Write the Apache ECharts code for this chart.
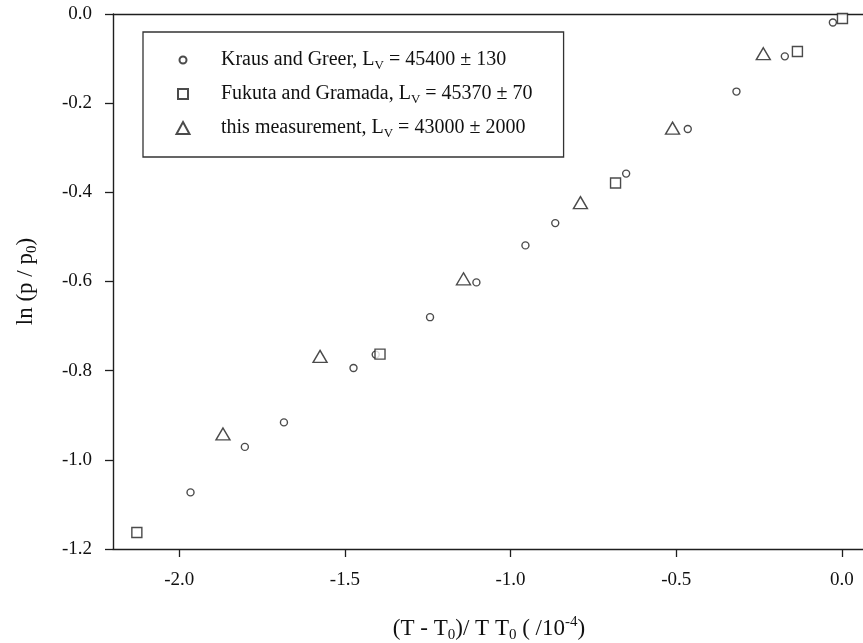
<!DOCTYPE html>
<html>
<head>
<meta charset="utf-8">
<script src="https://cdn.jsdelivr.net/npm/echarts@6/dist/echarts.min.js"></script>
<style>
  html, body { margin: 0; padding: 0; background: #fff; }
  #chart { width: 863px; height: 643px; }
</style>
</head>
<body>
<div id="chart"></div>
<script>
    var krausX = [-1.966, -1.802, -1.684, -1.474, -1.407, -1.243, -1.103, -0.955, -0.865, -0.651, -0.465, -0.318, -0.172, -0.027];
    var krausY = [-1.073, -0.971, -0.916, -0.794, -0.764, -0.680, -0.602, -0.519, -0.469, -0.358, -0.258, -0.174, -0.095, -0.019];
    var fukutaX = [-2.128, -1.394, -0.683, -0.134, 0.002];
    var fukutaY = [-1.163, -0.763, -0.379, -0.084, -0.010];
    var measX = [-1.868, -1.575, -1.142, -0.789, -0.511, -0.237];
    var measY = [-0.942, -0.768, -0.594, -0.423, -0.256, -0.089];
    var xTicks = [-2.0, -1.5, -1.0, -0.5, 0.0];

    function pairs(xs, ys) {
        return xs.map(function (x, i) { return [x, ys[i]]; });
    }

    var serif = 'Liberation Serif';
    var ink = '#1e1e1e';
    var rich = {
        n: { fontFamily: serif, fontSize: 20, color: '#111', lineHeight: 24 },
        s: { fontFamily: serif, fontSize: 13, color: '#111', lineHeight: 13, verticalAlign: 'bottom' }
    };
    var richBig = {
        n: { fontFamily: serif, fontSize: 23, color: '#111', lineHeight: 28 },
        s: { fontFamily: serif, fontSize: 15, color: '#111', lineHeight: 15, verticalAlign: 'bottom' },
        p: { fontFamily: serif, fontSize: 15, color: '#111', lineHeight: 15, verticalAlign: 'top' }
    };
    var labels = {
        'Kraus': '{n|Kraus and Greer, L}{s|V}{n| = 45400 ± 130}',
        'Fukuta': '{n|Fukuta and Gramada, L}{s|V}{n| = 45370 ± 70}',
        'meas': '{n|this measurement, L}{s|V}{n| = 43000 ± 2000}'
    };
    // legend icons padded inside a 14x14 box so each keeps its own size
    var icons = {
        'Kraus': 'path://M0,0M14,14M10.5,7A3.5,3.5,0,1,1,3.5,7A3.5,3.5,0,1,1,10.5,7Z',
        'Fukuta': 'path://M0,0M14,14M2,2L12,2L12,12L2,12Z',
        'meas': 'path://M0,0M14,14M7,1L13.5,13L0.5,13Z'
    };

    var myChart = echarts.init(document.getElementById('chart'));
    var mark = { color: '#fff', borderColor: ink, borderWidth: 1.4 };

    var option = {
        backgroundColor: '#fff',
        animation: false,
        grid: { left: 113, top: 14, width: 752, height: 535, containLabel: false, outerBoundsMode: 'none' },
        legend: {
            orient: 'vertical',
            left: 143,
            top: 32,
            padding: [18, 31, 17, 32],
            itemGap: 12,
            itemWidth: 14,
            itemHeight: 14,
            borderColor: '#333',
            borderWidth: 1.3,
            borderRadius: 0,
            data: ['Kraus', 'Fukuta', 'meas'].map(function (n) {
                return { name: n, icon: icons[n] };
            }),
            formatter: function (name) { return labels[name]; },
            textStyle: { padding: [0, 0, 0, 26], rich: rich }
        },
        xAxis: [{
            type: 'value',
            min: -2.2,
            max: 0.07,
            name: '{n|(T - T}{s|0}{n|)/ T T}{s|0}{n| ( /10}{p|-4}{n|)}',
            nameLocation: 'middle',
            nameGap: 66,
            nameTextStyle: { rich: richBig },
            axisLine: { onZero: false, lineStyle: { color: ink, width: 1.4 } },
            axisTick: { inside: false, length: 8, customValues: xTicks, lineStyle: { color: ink, width: 1.3 } },
            axisLabel: {
                customValues: xTicks,
                margin: 22,
                fontFamily: serif,
                fontSize: 19,
                color: '#111',
                formatter: function (v) { return v.toFixed(1); }
            },
            splitLine: { show: false }
        }, {
            type: 'value',
            position: 'top',
            min: -2.2,
            max: 0.07,
            axisLine: { show: true, onZero: false, lineStyle: { color: ink, width: 1.4 } },
            axisTick: { show: false },
            axisLabel: { show: false },
            splitLine: { show: false }
        }],
        yAxis: {
            type: 'value',
            position: 'left',
            min: -1.2,
            max: 0,
            interval: 0.2,
            name: '{n|ln (p / p}{s|0}{n|)}',
            nameLocation: 'middle',
            nameRotate: 90,
            nameGap: 73,
            nameTextStyle: { rich: richBig },
            axisLine: { show: true, onZero: false, lineStyle: { color: ink, width: 1.4 } },
            axisTick: { show: true, inside: false, length: 8, lineStyle: { color: ink, width: 1.3 } },
            axisLabel: {
                margin: 21,
                fontFamily: serif,
                fontSize: 19,
                color: '#111',
                formatter: function (v) { return v.toFixed(1); }
            },
            splitLine: { show: false }
        },
        series: [{
            name: 'Kraus',
            type: 'scatter',
            symbol: 'circle',
            symbolSize: 7,
            itemStyle: mark,
            data: pairs(krausX, krausY)
        }, {
            name: 'Fukuta',
            type: 'scatter',
            symbol: 'rect',
            symbolSize: 10,
            itemStyle: mark,
            data: pairs(fukutaX, fukutaY)
        }, {
            name: 'meas',
            type: 'scatter',
            symbol: 'triangle',
            symbolSize: [14, 12],
            itemStyle: mark,
            data: pairs(measX, measY)
        }]
    };

    myChart.setOption(option);
</script>
</body>
</html>
